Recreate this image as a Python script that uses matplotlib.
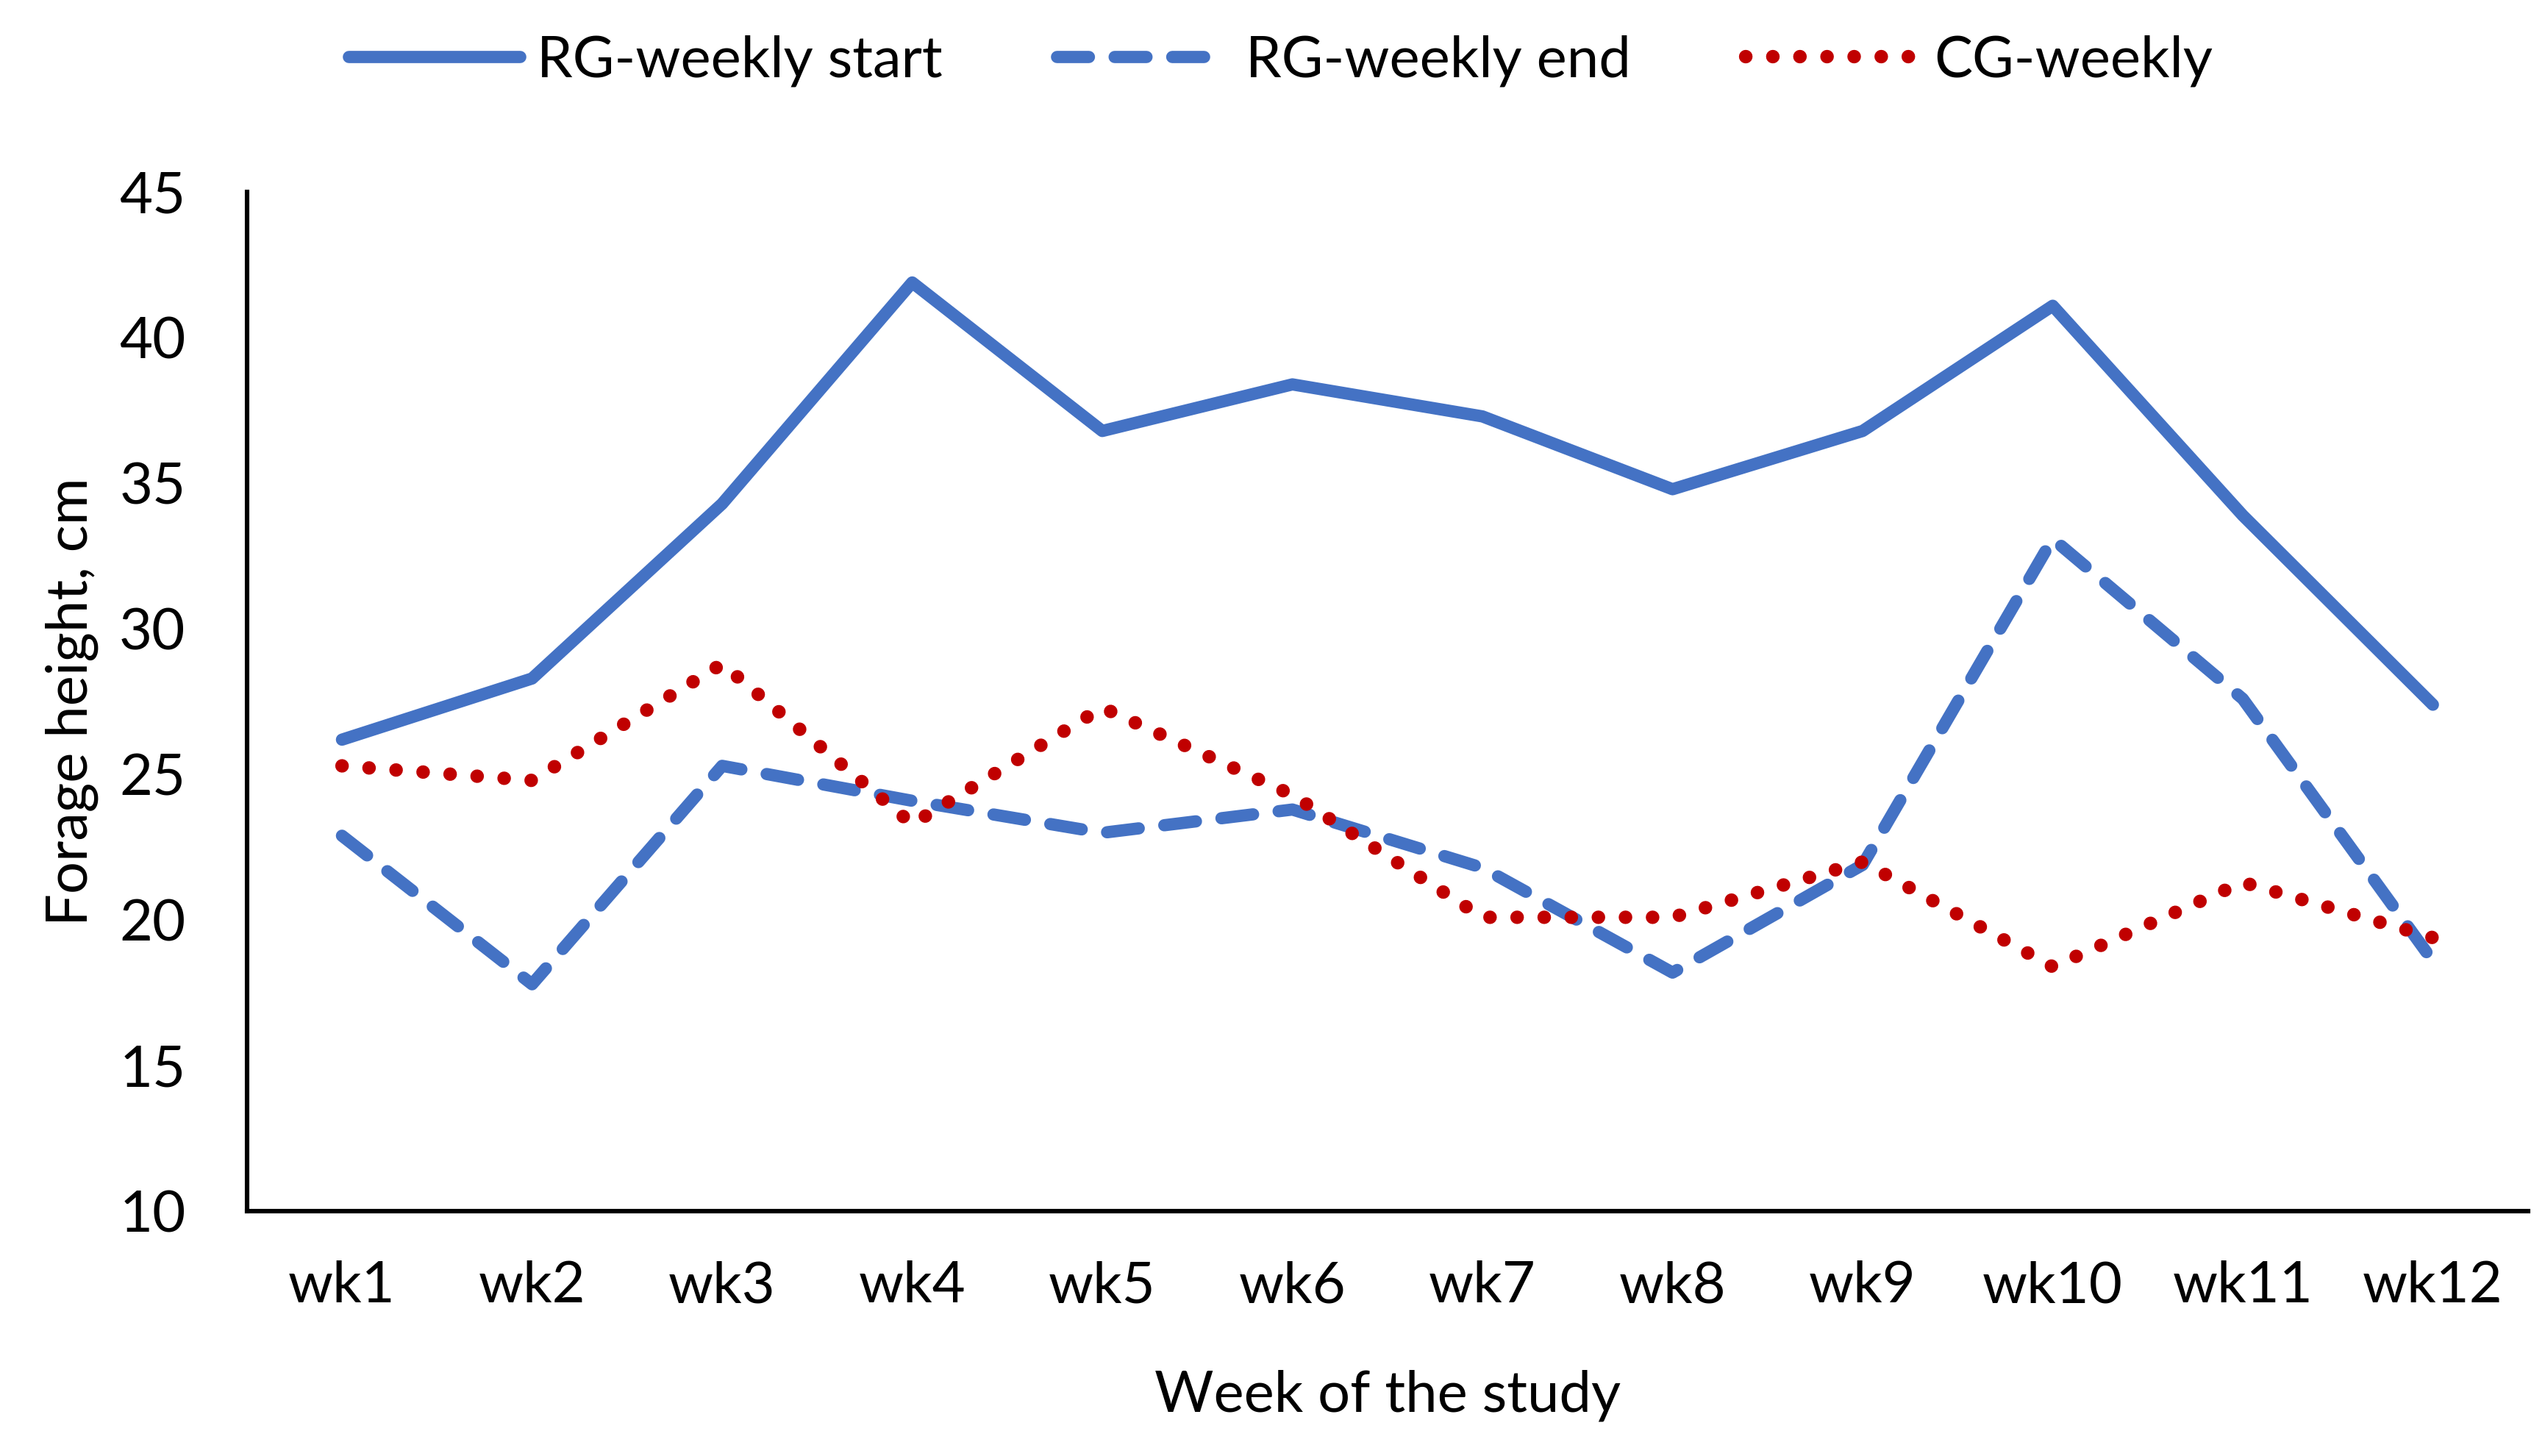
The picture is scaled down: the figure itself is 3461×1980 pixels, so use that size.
import matplotlib
matplotlib.use("Agg")
import matplotlib.pyplot as plt
import numpy as np

weeks = ["wk1", "wk2", "wk3", "wk4", "wk5", "wk6", "wk7", "wk8", "wk9", "wk10", "wk11", "wk12"]
rg_start = [26.2, 28.3, 34.3, 41.9, 36.8, 38.4, 37.3, 34.8, 36.8, 41.1, 33.9, 27.4]
rg_end = [22.9, 17.8, 25.3, 24.1, 23.0, 23.8, 21.8, 18.2, 21.9, 33.1, 27.6, 18.6]
cg = [25.3, 24.8, 28.8, 23.3, 27.3, 24.3, 20.1, 20.1, 22.0, 18.4, 21.3, 19.4]
yticks = [10, 15, 20, 25, 30, 35, 40, 45]

plt.rcParams['font.family'] = ['Lato', 'DejaVu Sans']
blue = '#4472C4'
red = '#C00000'
fs = 28

fig = plt.figure(figsize=(17.31, 9.9), dpi=200)
ax = fig.add_axes([0.097, 0.168, 0.896, 0.700])
x = np.arange(len(weeks))

ax.plot(x, rg_start, color=blue, lw=6.0, solid_capstyle='round', solid_joinstyle='round',
        label='RG-weekly start')
ax.plot(x, rg_end, color=blue, lw=6.0, dashes=(2.6, 2.1), dash_capstyle='round',
        label='RG-weekly end')
ax.plot(x, cg, color=red, lw=6.6, dashes=(0.01, 2.0), dash_capstyle='round',
        label='CG-weekly')

ax.set_xlim(-0.5, 11.5)
ax.set_ylim(10, 45)
ax.set_yticks(yticks)
ax.set_xticks(x)
ax.set_xticklabels(weeks)
ax.tick_params(axis='both', length=0, labelsize=fs)
ax.tick_params(axis='x', pad=24)
ax.tick_params(axis='y', pad=30)
for s in ['top', 'right']:
    ax.spines[s].set_visible(False)
for s in ['left', 'bottom']:
    ax.spines[s].set_linewidth(2.2)

ax.set_xlabel('Week of the study', fontsize=fs, labelpad=28)
ax.set_ylabel('Forage height, cm', fontsize=fs, labelpad=10)

fig.legend(*ax.get_legend_handles_labels(), loc='center', bbox_to_anchor=(0.503, 0.958),
           ncol=3, frameon=False, fontsize=fs, handlelength=3.0, columnspacing=2.0,
           handletextpad=0.3)

fig.savefig('out.png', dpi=200)
